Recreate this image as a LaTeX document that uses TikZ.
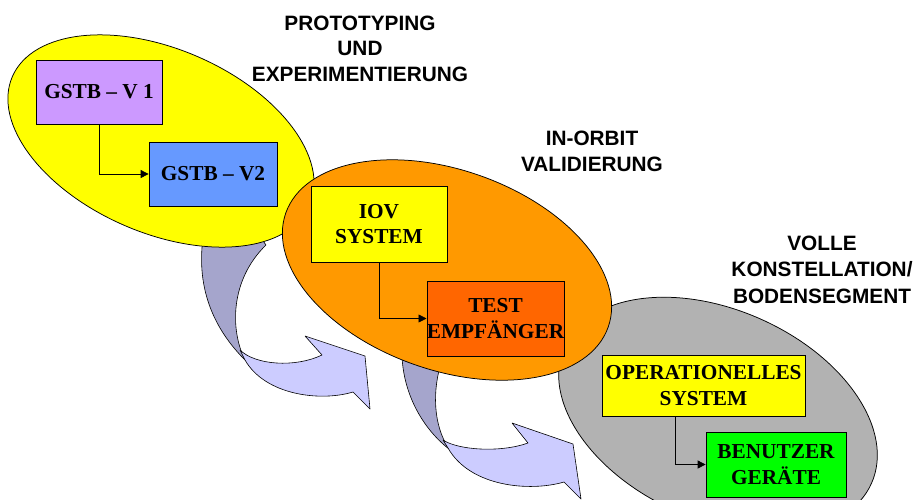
\documentclass[tikz,border=0pt]{standalone}
\usepackage{fontspec}
\setmainfont{Liberation Serif}
\setsansfont{Liberation Sans}
\usetikzlibrary{shapes.geometric,arrows.meta}
\definecolor{cyel}{HTML}{FFFF00}
\definecolor{corg}{HTML}{FF9900}
\definecolor{cgray}{HTML}{B2B2B2}
\definecolor{cpurp}{HTML}{CC99FF}
\definecolor{cblue}{HTML}{6699FF}
\definecolor{cred}{HTML}{FF6600}
\definecolor{cgreen}{HTML}{00FF00}
\definecolor{adark}{HTML}{A5A5CC}
\definecolor{alight}{HTML}{CCCCFF}
\begin{document}
\begin{tikzpicture}[x=1pt,y=-1pt,
  blob/.style={draw=black, line width=0.75pt, ellipse, inner sep=0pt},
  box/.style={draw=black, line width=0.75pt, inner sep=0pt, align=center, font=\fontsize{21.3}{25.5}\selectfont\bfseries},
  head/.style={align=center, anchor=base, font=\sffamily\bfseries\fontsize{20.8}{25.5}\selectfont},
  conn/.style={line width=0.75pt, -{Triangle[length=8pt,width=8pt]}},
  ribbon/.style={draw=black, line width=0.6pt, line join=round}]
\useasboundingbox (0,0) rectangle (921,499);
\fill[white] (0,0) rectangle (921,499);
% curved arrow 1
\path[ribbon, fill=adark] (203,238) .. controls (196,290) and (215,330) .. (245,360)
  .. controls (230,330) and (230,280) .. (266,245) -- (261,238) -- cycle;
\path[ribbon, fill=alight] (240,350) .. controls (255,365) and (295,368) .. (322,355)
  -- (305,336) -- (365,356) -- (370,409) -- (353,392)
  .. controls (320,402) and (265,395) .. (245,360) -- cycle;
% curved arrow 2
\path[ribbon, fill=adark] (402,345) .. controls (400,390) and (422,428) .. (449,449)
  .. controls (433,425) and (432,390) .. (442,360) -- cycle;
\path[ribbon, fill=alight] (443,440) .. controls (458,450) and (500,453) .. (528,443)
  -- (512,423) -- (573,444) -- (581,499) -- (564,482)
  .. controls (530,492) and (470,487) .. (448,448) -- cycle;
% ellipses
\node[blob, fill=cyel, minimum width=324pt, minimum height=184pt, rotate=-23.4] (e1) at (161,141) {};
\node[blob, fill=cgray, minimum width=336pt, minimum height=210pt, rotate=-24] (e3) at (718,415) {};
\node[blob, fill=corg, minimum width=342pt, minimum height=200pt, rotate=-19.5] (e2) at (447,270) {};
% boxes
\node[box, fill=cpurp, minimum width=126pt, minimum height=64pt] (v1) at (99,92) {GSTB – V 1};
\node[box, fill=cblue, minimum width=128pt, minimum height=64pt] (v2) at (213,174) {GSTB – V2};
\node[box, fill=cyel, minimum width=136pt, minimum height=76pt] (iov) at (379,224) {IOV\\SYSTEM};
\node[box, fill=cred, minimum width=133pt, minimum height=75pt] (test) at (495.5,318.5) {TEST\\EMPFÄNGER};
\node[box, fill=cyel, minimum width=203pt, minimum height=61pt] (op) at (703.5,385.5) {OPERATIONELLES\\SYSTEM};
\node[box, fill=cgreen, minimum width=140pt, minimum height=65pt] (ben) at (776,464.5) {BENUTZER\\GERÄTE};
% connectors
\draw[conn] (v1.south) |- (v2.west);
\draw[conn] (iov.south) |- (test.west);
\draw[conn] ([xshift=-28pt]op.south) |- (ben.west);
% headings (anchor = baseline of last line)
\node[head] (h1) at (360,81) {PROTOTYPING\\UND\\EXPERIMENTIERUNG};
\node[head] (h2) at (592,171) {IN-ORBIT\\VALIDIERUNG};
\node[head, font=\sffamily\bfseries\fontsize{20.8}{26.5}\selectfont] (h3) at (822,303) {VOLLE\\KONSTELLATION/\\BODENSEGMENT};
\end{tikzpicture}
\end{document}
